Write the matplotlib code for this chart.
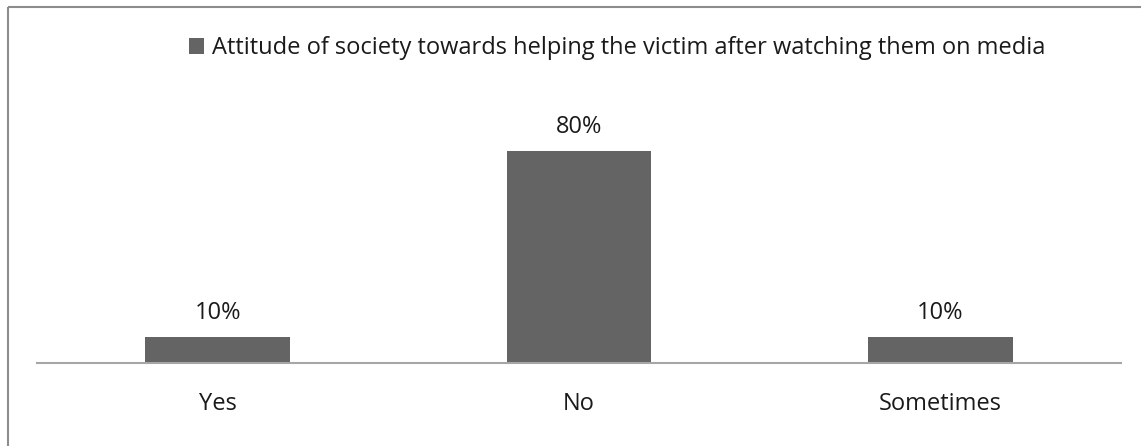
import matplotlib.pyplot as plt
from matplotlib.lines import Line2D

# Verileri tanımla
categories = ["Yes", "No", "Sometimes"]
values = [10, 80, 10]
series_name = "Attitude of society towards helping the victim after watching them on media"

plt.rcParams['font.family'] = ['Open Sans', 'DejaVu Sans']

W, H = 1141, 446
fig = plt.figure(figsize=(W / 100, H / 100), dpi=100)

# Dış çerçeve: sadece üst ve sol kenar görünür
x0, y0 = 7.5 / W, 1 - 6.5 / H
fig.add_artist(Line2D([x0, 1.05], [y0, y0], transform=fig.transFigure,
                      color='#8c8c8c', linewidth=1.5, solid_capstyle='butt'))
fig.add_artist(Line2D([x0, x0], [-0.05, y0], transform=fig.transFigure,
                      color='#8c8c8c', linewidth=1.5, solid_capstyle='butt'))

ax = fig.add_axes([37 / W, 1 - 363 / H, (1121 - 37) / W, (363 - 98) / H])
x = range(len(categories))
bars = ax.bar(x, values, width=0.4, color='#646464', label=series_name)

for b, v in zip(bars, values):
    ax.text(b.get_x() + b.get_width() / 2, v + 9.0, f"{v}%",
            ha='center', va='center', fontsize=17, color='#1a1a1a')

ax.set_xlim(-0.5, 2.5)
ax.set_ylim(0, 100)
ax.set_xticks(list(x))
ax.set_xticklabels(categories, fontsize=17, color='#1a1a1a')
ax.tick_params(axis='x', length=0, pad=21)
ax.set_yticks([])
for s in ['top', 'right', 'left']:
    ax.spines[s].set_visible(False)
ax.spines['bottom'].set_color('#a6a6a6')
ax.spines['bottom'].set_linewidth(1.5)

fig.legend(loc='center', bbox_to_anchor=(617 / W, 1 - 48 / H), frameon=False,
           fontsize=17, handlelength=0.65, handleheight=0.65,
           handletextpad=0.35, labelcolor='#1a1a1a')

plt.savefig("out.png", dpi=100)
plt.close()
